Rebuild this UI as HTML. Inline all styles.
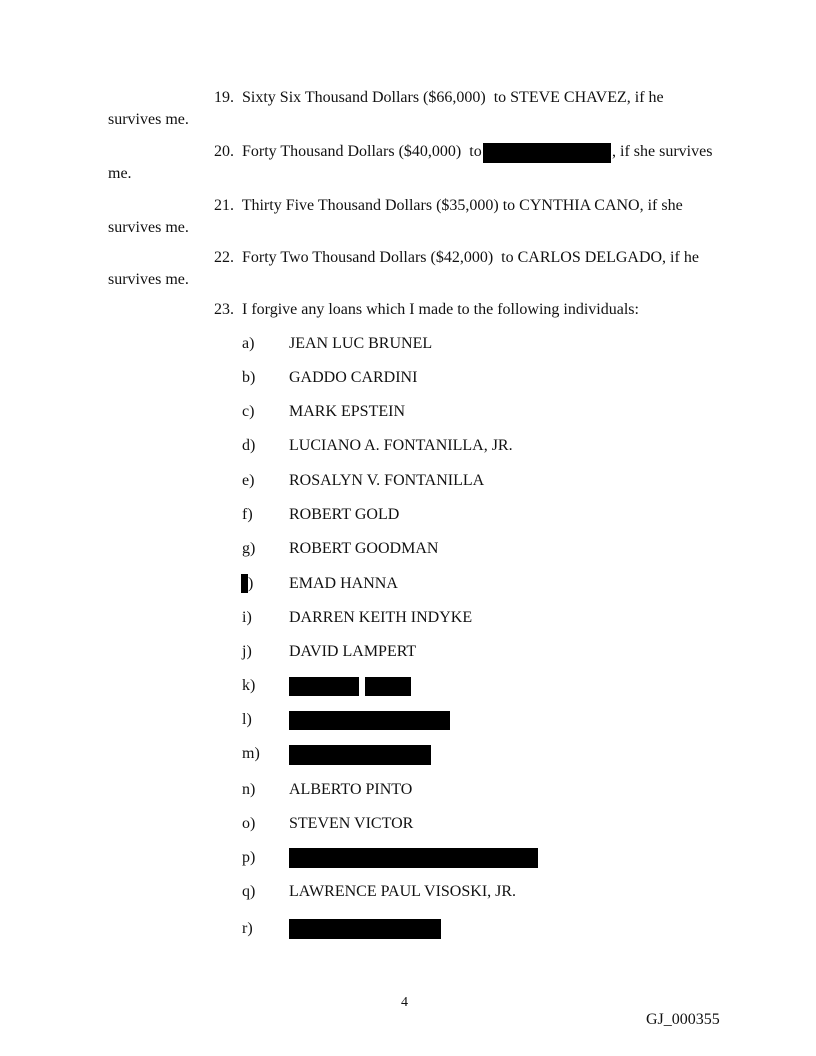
<!DOCTYPE html>
<html><head><meta charset="utf-8"><style>
body{margin:0;background:#fff}
.p{position:relative;width:816px;height:1056px;background:#fff;font-family:"Liberation Serif",serif;font-size:16px;color:#111}
.t{position:absolute;line-height:18px;white-space:pre}
.r{position:absolute;background:#000}
</style></head><body><div class="p">
<div class="t" style="left:214px;top:89px">19.  Sixty Six Thousand Dollars ($66,000)  to STEVE CHAVEZ, if he</div>
<div class="t" style="left:108px;top:111px">survives me.</div>
<div class="t" style="left:214px;top:143px">20.  Forty Thousand Dollars ($40,000)  to </div>
<div class="r" style="left:483px;top:143px;width:128px;height:20px"></div>
<div class="t" style="left:612px;top:143px">, if she survives</div>
<div class="t" style="left:108px;top:165px">me.</div>
<div class="t" style="left:214px;top:197px">21.  Thirty Five Thousand Dollars ($35,000) to CYNTHIA CANO, if she</div>
<div class="t" style="left:108px;top:219px">survives me.</div>
<div class="t" style="left:214px;top:249px">22.  Forty Two Thousand Dollars ($42,000)  to CARLOS DELGADO, if he</div>
<div class="t" style="left:108px;top:271px">survives me.</div>
<div class="t" style="left:214px;top:301px">23.  I forgive any loans which I made to the following individuals:</div>

<div class="t" style="left:242px;top:335px">a)</div><div class="t" style="left:289px;top:335px">JEAN LUC BRUNEL</div>
<div class="t" style="left:242px;top:369px">b)</div><div class="t" style="left:289px;top:369px">GADDO CARDINI</div>
<div class="t" style="left:242px;top:403px">c)</div><div class="t" style="left:289px;top:403px">MARK EPSTEIN</div>
<div class="t" style="left:242px;top:437px">d)</div><div class="t" style="left:289px;top:437px">LUCIANO A. FONTANILLA, JR.</div>
<div class="t" style="left:242px;top:472px">e)</div><div class="t" style="left:289px;top:472px">ROSALYN V. FONTANILLA</div>
<div class="t" style="left:242px;top:506px">f)</div><div class="t" style="left:289px;top:506px">ROBERT GOLD</div>
<div class="t" style="left:242px;top:540px">g)</div><div class="t" style="left:289px;top:540px">ROBERT GOODMAN</div>
<div class="r" style="left:241px;top:574px;width:7px;height:19px"></div><div class="t" style="left:248px;top:575px">)</div><div class="t" style="left:289px;top:575px">EMAD HANNA</div>
<div class="t" style="left:242px;top:609px">i)</div><div class="t" style="left:289px;top:609px">DARREN KEITH INDYKE</div>
<div class="t" style="left:242px;top:643px">j)</div><div class="t" style="left:289px;top:643px">DAVID LAMPERT</div>
<div class="t" style="left:242px;top:677px">k)</div><div class="r" style="left:289px;top:677px;width:70px;height:19px"></div><div class="r" style="left:365px;top:677px;width:46px;height:19px"></div>
<div class="t" style="left:242px;top:711px">l)</div><div class="r" style="left:289px;top:711px;width:161px;height:19px"></div>
<div class="t" style="left:242px;top:745px">m)</div><div class="r" style="left:289px;top:745px;width:142px;height:20px"></div>
<div class="t" style="left:242px;top:781px">n)</div><div class="t" style="left:289px;top:781px">ALBERTO PINTO</div>
<div class="t" style="left:242px;top:815px">o)</div><div class="t" style="left:289px;top:815px">STEVEN VICTOR</div>
<div class="t" style="left:242px;top:849px">p)</div><div class="r" style="left:289px;top:848px;width:249px;height:20px"></div>
<div class="t" style="left:242px;top:883px">q)</div><div class="t" style="left:289px;top:883px">LAWRENCE PAUL VISOSKI, JR.</div>
<div class="t" style="left:242px;top:920px">r)</div><div class="r" style="left:289px;top:919px;width:152px;height:20px"></div>

<div class="t" style="left:401px;top:994px;font-size:14px">4</div>
<div class="t" style="left:646px;top:1011px">GJ_000355</div>
</div></body></html>
